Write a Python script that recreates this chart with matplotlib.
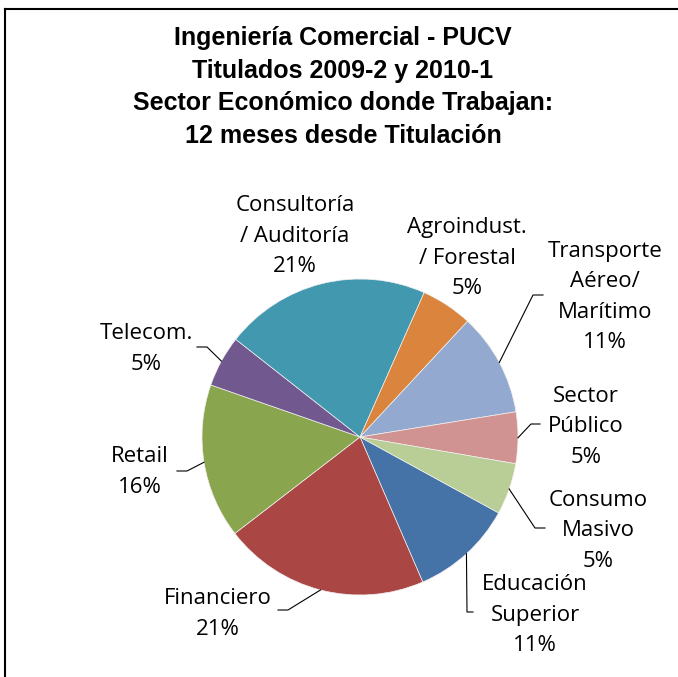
import numpy as np
import matplotlib.pyplot as plt
from matplotlib.lines import Line2D

# data (Excel order, drawn clockwise)
sectors = ['Educación\nSuperior', 'Financiero', 'Retail', 'Telecom.', 'Consultoría\n/ Auditoría',
           'Agroindust.\n/ Forestal', 'Transporte\nAéreo/\nMarítimo', 'Sector\nPúblico', 'Consumo\nMasivo']
counts = [2, 4, 3, 1, 4, 1, 2, 1, 1]
colors = ['#4572A7', '#AA4643', '#89A54E', '#71588F', '#4198AF',
          '#DB843D', '#93A9CF', '#D19392', '#B9CD96']

# label layout in pixels (x, y from top)
label_pos = [(535, 615), (218, 614), (140, 472), (146, 349), (295, 236),
             (467, 258), (605, 297), (586, 427), (598, 531)]
# leader: elbow point and horizontal end point (pixels)
leaders = [((467, 612), (473, 612)), ((288, 610), (278, 610)), ((187, 471), (177, 471)),
           ((207, 347), (197, 347)), None, None,
           ((533, 295), (543, 295)), ((531, 424), (540, 424)), ((535, 528), (545, 528))]

W, H = 678, 677
cx, cy, R = 360, 437, 158
start_deg = 118.7  # clockwise from north, where first slice begins


def fy(y):
    return H - y


fig = plt.figure(figsize=(W / 100, H / 100), dpi=100)
ax = fig.add_axes([0, 0, 1, 1])
ax.set_xlim(0, W)
ax.set_ylim(0, H)
ax.set_aspect('equal')
ax.axis('off')

wedges, _ = ax.pie(counts, colors=colors, startangle=90 - start_deg, counterclock=False,
                   center=(cx, fy(cy)), radius=R, wedgeprops=dict(linewidth=0.5, edgecolor='#f0f0f0'),
                   frame=False)
ax.set_xlim(0, W)
ax.set_ylim(0, H)

total = sum(counts)
font = ['Open Sans', 'DejaVu Sans']
for i, w in enumerate(wedges):
    pct = counts[i] / total * 100
    txt = f'{sectors[i]}\n{pct:.0f}%'
    lx, ly = label_pos[i]
    ax.text(lx, fy(ly), txt, ha='center', va='center', fontsize=16, family=font,
            color='black', linespacing=1.6)
    if leaders[i] is not None:
        mid = np.deg2rad((w.theta1 + w.theta2) / 2)
        px, py = cx + R * np.cos(mid), fy(cy) + R * np.sin(mid)
        (ex, ey), (hx, hy) = leaders[i]
        ax.plot([px, ex, hx], [py, fy(ey), fy(hy)], color='black', lw=0.8)

title = ('Ingeniería Comercial - PUCV\nTitulados 2009-2 y 2010-1\n'
         'Sector Económico donde Trabajan:\n12 meses desde Titulación')
ax.text(343, fy(87), title, ha='center', va='center', fontsize=18, fontweight='bold',
        family=['Liberation Sans', 'DejaVu Sans'], linespacing=1.45)

# chart frame (only top and left edges visible in the crop)
fig.add_artist(Line2D([4.5 / W, 4.5 / W], [0, 1 - 8.5 / H], color='black', lw=1.5))
fig.add_artist(Line2D([4.5 / W, 1], [1 - 8.5 / H, 1 - 8.5 / H], color='black', lw=1.5))

fig.savefig('out.png', dpi=100)
